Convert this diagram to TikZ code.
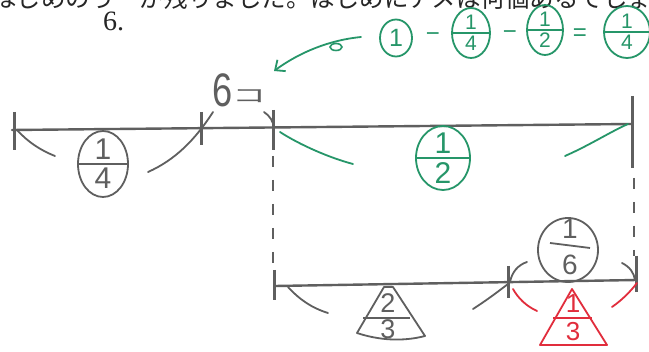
\documentclass[tikz,border=0pt]{standalone}
\usepackage{fontspec}
\setmainfont{Liberation Sans}
\newfontfamily\jpfont{Noto Sans CJK JP}
\newfontfamily\serifnum{Liberation Serif}
\usetikzlibrary{arrows.meta,shapes.geometric}
\definecolor{pen}{RGB}{95,95,95}
\definecolor{grn}{RGB}{38,150,105}
\definecolor{rd}{RGB}{225,45,60}
\newcommand\ovfrac[8]{%
  \node[oval,#7,minimum width=#3,minimum height=#4] (#1) at #2 {};
  \draw[#7,line width=1.8pt] (#1.west) -- (#1.east);
  \node[num,#7,above=#8] (#1n) at (#1.center) {#5};
  \node[num,#7,below=#8] (#1d) at (#1.center) {#6};
}
\begin{document}
\begin{tikzpicture}[x=1pt,y=-1pt,
  mainline/.style={pen,line width=2.4pt,line cap=round},
  tickmark/.style={pen,line width=3pt},
  guide/.style={pen,line width=2.4pt,dash pattern=on 11pt off 13pt},
  brace/.style={line width=1.8pt,line cap=round},
  oval/.style={ellipse,draw,line width=1.8pt,inner sep=0pt},
  num/.style={inner sep=0pt,font=\fontsize{30}{30}\selectfont},
  eqnum/.style={font=\fontsize{21}{21}\selectfont},
  ]
\useasboundingbox (0,0) rectangle (649,352);
\clip (0,0) rectangle (649,352);
\fill[white] (0,0) rectangle (649,352);

% cropped question text
\node[anchor=base west,inner sep=0pt,text=black!85,
      font=\jpfont\fontsize{24.5}{24.5}\selectfont] (qtext) at (-8,8)
      {はじめのうーが残りました。はじめにアメは何個あるでしょう};
\node[anchor=base west,inner sep=0pt,text=black!85,
      font=\serifnum\fontsize{28}{28}\selectfont] (qnum) at (103,31) {6.};

% top line
\coordinate (TL) at (12,130);
\coordinate (TR) at (632,124);
\draw[mainline] (TL) -- (TR);
\draw[tickmark] (14,112) -- (14,150);
\draw[tickmark] (201,112) -- (201,145);
\draw[tickmark] (273,110) -- (273,150);
\draw[tickmark] (632,96) -- (632,168);

% dashed guides
\draw[guide] (273,156) -- (273,268);
\draw[guide] (634,178) -- (634,256);

% bottom line
\draw[mainline] (275,286) -- (637,280);
\draw[tickmark] (274,270) -- (274,300);
\draw[tickmark] (508,266) -- (508,298);
\draw[tickmark] (636,256) -- (636,292);

% 6 ko
\node[pen,inner sep=0pt,font=\fontsize{47}{47}\selectfont] (six) at (223,90) {\scalebox{0.77}[1]{6}};
\node[pen,inner sep=0pt,font=\jpfont\fontsize{34}{34}\selectfont] (ko) at (249,96) {\scalebox{1}[0.55]{コ}};

% gray 1/4 brace
\draw[pen,brace] (17,130) .. controls (28,142) and (40,150) .. (55,156);
\draw[pen,brace] (148,172) .. controls (175,160) and (195,140) .. (213,112);
\draw[pen,brace] (264,112) .. controls (270,116) and (273,121) .. (274,128);
\ovfrac{qa}{(103,164)}{50pt}{66pt}{1}{4}{pen}{4pt}

% green 1/2 brace
\draw[grn,brace] (280,132) .. controls (300,145) and (330,158) .. (353,164);
\draw[grn,brace] (565,156) .. controls (590,145) and (610,132) .. (628,124);
\ovfrac{hf}{(443,158)}{54pt}{64pt}{1}{2}{grn}{4pt}

% green arrow and equation
\coordinate (astart) at (361,37);
\coordinate (tip) at (274,71);
\draw[grn,brace,-{Straight Barb[length=8pt,width=14pt]}] (astart) .. controls (330,40) and (300,52) .. (tip);
\draw[grn,line width=1.6pt] (336,47) ellipse (6 and 3.5);
\node[oval,grn,minimum width=32pt,minimum height=37pt,font=\fontsize{25}{25}\selectfont] (one) at (396,38) {1};
\node[grn,inner sep=0pt,font=\fontsize{24}{24}\selectfont] (m1) at (433,37) {−};
\ovfrac{ea}{(471,33)}{38pt}{50pt}{1}{4}{grn,eqnum}{3pt}
\node[grn,inner sep=0pt,font=\fontsize{24}{24}\selectfont] (m2) at (510,35) {−};
\ovfrac{eb}{(545,30)}{36pt}{50pt}{1}{2}{grn,eqnum}{3pt}
\node[grn,inner sep=0pt,font=\fontsize{24}{24}\selectfont] (eqs) at (580,35) {=};
\ovfrac{ec}{(627,32)}{46pt}{52pt}{1}{4}{grn,eqnum}{3pt}

% gray 2/3 brace and trapezoid
\draw[pen,brace] (288,287) .. controls (300,300) and (312,308) .. (328,313);
\draw[pen,brace] (473,309) .. controls (490,298) and (500,290) .. (508,284);
\draw[pen,line width=1.8pt,line join=round] (384,287) -- (393,287) -- (425,336)
   .. controls (402,342) and (378,340) .. (357,333) -- cycle;
\draw[pen,line width=1.8pt] (363,318) -- (410,318);
\node[num,pen,font=\fontsize{27}{27}\selectfont] (tn) at (388,303) {2};
\node[num,pen,font=\fontsize{27}{27}\selectfont] (td) at (388,329) {3};

% gray 1/6
\draw[pen,brace] (510,282) .. controls (512,272) and (518,265) .. (527,262);
\draw[pen,brace] (622,263) .. controls (630,267) and (634,273) .. (635,280);
\node[oval,pen,minimum width=60pt,minimum height=64pt] (sx) at (568,250) {};
\draw[pen,line width=1.8pt] (550,243) -- (590,248);
\node[num,pen,font=\fontsize{28}{28}\selectfont] (sxn) at (570,229) {1};
\node[num,pen,font=\fontsize{28}{28}\selectfont] (sxd) at (570,265) {6};

% red 1/3
\draw[rd,brace] (513,289) .. controls (518,298) and (526,306) .. (537,311);
\draw[rd,brace] (612,307) .. controls (622,300) and (630,292) .. (637,283);
\draw[rd,line width=1.8pt,line join=round] (572,289) -- (607,345) -- (540,345) -- cycle;
\draw[rd,line width=1.8pt] (553,318) -- (592,318);
\node[num,rd,font=\fontsize{26}{26}\selectfont] (rn) at (573,304) {1};
\node[num,rd,font=\fontsize{26}{26}\selectfont] (rdd) at (573,332) {3};
\end{tikzpicture}
\end{document}
